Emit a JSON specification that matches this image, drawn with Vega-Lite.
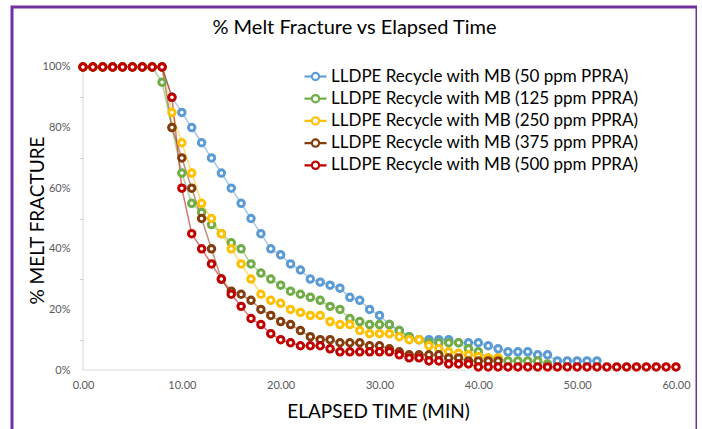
{
  "$schema": "https://vega.github.io/schema/vega-lite/v6.json",
  "width": 685,
  "height": 433,
  "autosize": {"type": "none"},
  "padding": {"left": 12, "top": 7, "right": 0, "bottom": 0},
  "background": "white",
  "title": {
    "text": "% Melt Fracture vs Elapsed Time",
    "font": "Lato",
    "fontSize": 20,
    "fontWeight": "normal",
    "color": "#000000",
    "anchor": "middle",
    "frame": "group",
    "offset": 0,
    "baseline": "bottom",
    "dy": 51
  },
  "resolve": {"axis": {"x": "independent", "y": "independent"}},
  "config": {
    "view": {"stroke": "#7030A0", "strokeWidth": 3},
    "font": "Lato",
    "axis": {
      "grid": false,
      "domain": false,
      "labelColor": "#595959",
      "labelFontSize": 11,
      "labelFont": "Lato",
      "titleFont": "Lato",
      "titleFontWeight": "normal",
      "titleColor": "#000000",
      "titleFontSize": 19
    }
  },
  "layer": [
    {
      "data": {"values": [{}]},
      "mark": {"type": "rule", "color": "#D9D9D9", "strokeWidth": 1},
      "encoding": {
        "x": {"datum": 0, "type": "quantitative", "scale": {"domain": [-7.184, 62.125], "nice": false, "zero": false}, "axis": null},
        "y": {"datum": 0, "type": "quantitative", "scale": {"domain": [-23.1, 119.8], "nice": false, "zero": false}, "axis": null},
        "y2": {"datum": 100}
      }
    },
    {
      "data": {"values": [{}]},
      "mark": {"type": "rule", "color": "#D9D9D9", "strokeWidth": 1},
      "encoding": {
        "x": {"datum": 0, "type": "quantitative", "scale": {"domain": [-7.184, 62.125], "nice": false, "zero": false}, "axis": null},
        "x2": {"datum": 60},
        "y": {"datum": 0, "type": "quantitative", "scale": {"domain": [-23.1, 119.8], "nice": false, "zero": false}, "axis": null}
      }
    },
    {
      "data": {
        "values": [
          {"t": 0, "050": 100, "125": 100, "250": 100, "375": 100, "500": 100},
          {"t": 1, "050": 100, "125": 100, "250": 100, "375": 100, "500": 100},
          {"t": 2, "050": 100, "125": 100, "250": 100, "375": 100, "500": 100},
          {"t": 3, "050": 100, "125": 100, "250": 100, "375": 100, "500": 100},
          {"t": 4, "050": 100, "125": 100, "250": 100, "375": 100, "500": 100},
          {"t": 5, "050": 100, "125": 100, "250": 100, "375": 100, "500": 100},
          {"t": 6, "050": 100, "125": 100, "250": 100, "375": 100, "500": 100},
          {"t": 7, "050": 100, "125": 100, "250": 100, "375": 100, "500": 100},
          {"t": 8, "050": 100, "125": 95, "250": 100, "375": 100, "500": 100},
          {"t": 9, "050": 90, "125": 80, "250": 85, "375": 80, "500": 90},
          {"t": 10, "050": 85, "125": 65, "250": 75, "375": 70, "500": 60},
          {"t": 11, "050": 80, "125": 55, "250": 65, "375": 60, "500": 45},
          {"t": 12, "050": 75, "125": 52, "250": 55, "375": 50, "500": 40},
          {"t": 13, "050": 70, "125": 48, "250": 50, "375": 40, "500": 35},
          {"t": 14, "050": 65, "125": 45, "250": 45, "375": 30, "500": 30},
          {"t": 15, "050": 60, "125": 42, "250": 40, "375": 26, "500": 25},
          {"t": 16, "050": 55, "125": 40, "250": 35, "375": 25, "500": 21},
          {"t": 17, "050": 50, "125": 35, "250": 30, "375": 23, "500": 17},
          {"t": 18, "050": 45, "125": 32, "250": 25, "375": 20, "500": 15},
          {"t": 19, "050": 40, "125": 30, "250": 23, "375": 18, "500": 12},
          {"t": 20, "050": 38, "125": 28, "250": 22, "375": 16, "500": 10},
          {"t": 21, "050": 35, "125": 26, "250": 20, "375": 15, "500": 9},
          {"t": 22, "050": 33, "125": 25, "250": 19, "375": 13, "500": 8},
          {"t": 23, "050": 30, "125": 24, "250": 18, "375": 11, "500": 8},
          {"t": 24, "050": 29, "125": 23, "250": 18, "375": 10, "500": 8},
          {"t": 25, "050": 28, "125": 21, "250": 16, "375": 10, "500": 7},
          {"t": 26, "050": 27, "125": 20, "250": 15, "375": 9, "500": 6},
          {"t": 27, "050": 24, "125": 17, "250": 15, "375": 9, "500": 6},
          {"t": 28, "050": 23, "125": 16, "250": 13, "375": 9, "500": 6},
          {"t": 29, "050": 20, "125": 15, "250": 12, "375": 8, "500": 6},
          {"t": 30, "050": 18, "125": 15, "250": 12, "375": 8, "500": 6},
          {"t": 31, "050": 15, "125": 15, "250": 12, "375": 7, "500": 6},
          {"t": 32, "050": 13, "125": 13, "250": 11, "375": 6, "500": 5},
          {"t": 33, "050": 11, "125": 11, "250": 10, "375": 5, "500": 4},
          {"t": 34, "050": 10, "125": 10, "250": 10, "375": 5, "500": 4},
          {"t": 35, "050": 10, "125": 9, "250": 8, "375": 5, "500": 3},
          {"t": 36, "050": 10, "125": 9, "250": 7, "375": 5, "500": 3},
          {"t": 37, "050": 10, "125": 9, "250": 6, "375": 4, "500": 2},
          {"t": 38, "050": 9, "125": 9, "250": 5.5, "375": 4, "500": 2},
          {"t": 39, "050": 9, "125": 7, "250": 5, "375": 3, "500": 2},
          {"t": 40, "050": 9, "125": 6, "250": 4.5, "375": 3, "500": 1},
          {"t": 41, "050": 8, "125": 4, "250": 4, "375": 3, "500": 1},
          {"t": 42, "050": 7, "125": 4, "250": 4, "375": 3, "500": 1},
          {"t": 43, "050": 6, "125": 3, "500": 1},
          {"t": 44, "050": 6, "125": 3, "500": 1},
          {"t": 45, "050": 6, "125": 3, "500": 1},
          {"t": 46, "050": 5, "125": 3, "500": 1},
          {"t": 47, "050": 5, "125": 2, "500": 1},
          {"t": 48, "050": 3, "500": 1},
          {"t": 49, "050": 3, "500": 1},
          {"t": 50, "050": 3, "500": 1},
          {"t": 51, "050": 3, "500": 1},
          {"t": 52, "050": 3, "500": 1},
          {"t": 53, "500": 1},
          {"t": 54, "500": 1},
          {"t": 55, "500": 1},
          {"t": 56, "500": 1},
          {"t": 57, "500": 1},
          {"t": 58, "500": 1},
          {"t": 59, "500": 1},
          {"t": 60, "500": 1}
        ]
      },
      "transform": [
        {"fold": ["050", "125", "250", "375", "500"], "as": ["series", "v"]},
        {"filter": "isValid(datum.v)"}
      ],
      "encoding": {
        "x": {
          "field": "t", "type": "quantitative",
          "scale": {"domain": [-7.184, 62.125], "nice": false, "zero": false},
          "axis": {
            "orient": "bottom", "offset": -70,
            "values": [0, 10, 20, 30, 40, 50, 60],
            "format": ".2f",
            "ticks": false,
            "labelPadding": 9,
            "labelFlush": false,
            "labelOverlap": false,
            "title": "ELAPSED TIME (MIN)",
            "titleX": 366, "titleY": 41,
            "titleAlign": "center", "titleBaseline": "middle"
          }
        },
        "y": {
          "field": "v", "type": "quantitative",
          "scale": {"domain": [-23.1, 119.8], "nice": false, "zero": false},
          "axis": {
            "orient": "left", "offset": -71,
            "values": [0, 10, 20, 30, 40, 50, 60, 70, 80, 90, 100],
            "labelExpr": "datum.value % 20 == 0 ? datum.value + '%' : ''",
            "tickSize": 3,
            "tickColor": "#BFBFBF",
            "tickOpacity": {"condition": {"test": "datum.value % 20 != 0", "value": 1}, "value": 0},
            "labelPadding": 10,
            "labelFlush": false,
            "labelOverlap": false,
            "title": "% MELT FRACTURE",
            "titleX": -46, "titleY": 213,
            "titleAngle": -90,
            "titleAlign": "center", "titleBaseline": "middle"
          }
        },
        "color": {
          "field": "series", "type": "nominal",
          "scale": {
            "domain": ["050", "125", "250", "375", "500"],
            "range": ["#5B9BD5", "#70AD47", "#FFC000", "#843C0C", "#C00000"]
          },
          "legend": {
            "orient": "none",
            "legendX": 291,
            "legendY": 57,
            "title": null,
            "padding": 0,
            "rowPadding": 1.2,
            "symbolType": "M-1,0L-0.33,0M0.33,0L1,0M-0.33,0A0.33,0.33,0,1,1,0.33,0A0.33,0.33,0,1,1,-0.33,0",
            "symbolSize": 484,
            "symbolStrokeWidth": 2.2,
            "symbolFillColor": "white",
            "symbolOpacity": 1,
            "labelFont": "Lato",
            "labelFontSize": 17,
            "labelColor": "#000000",
            "labelOffset": 3,
            "labelLimit": 400,
            "labelExpr": "'LLDPE Recycle with MB (' + (+datum.label) + ' ppm PPRA)'"
          }
        }
      },
      "layer": [
        {
          "mark": {"type": "line", "strokeWidth": 1.5, "opacity": 0.55}
        },
        {
          "mark": {"type": "point", "shape": "circle", "filled": false, "fill": "white", "size": 42, "strokeWidth": 3, "opacity": 1},
          "encoding": {"order": {"field": "series", "type": "nominal"}}
        }
      ]
    }
  ]
}
